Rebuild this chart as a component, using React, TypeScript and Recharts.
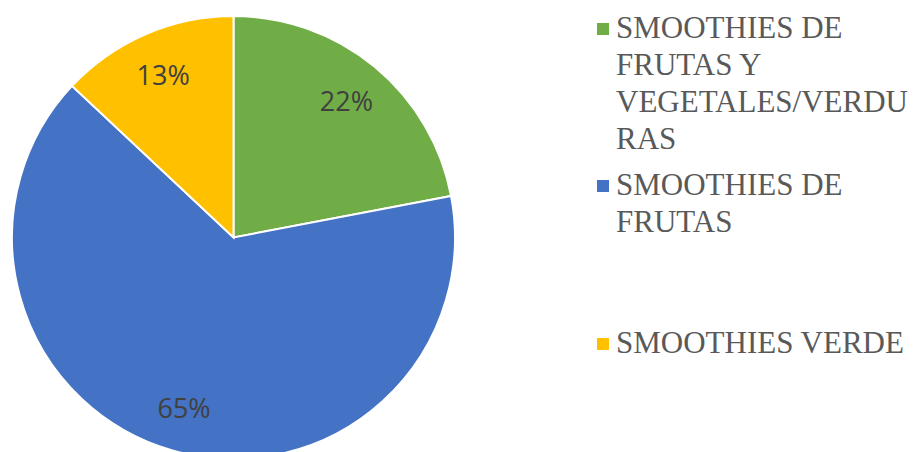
import React from 'react';
import { Cell, Legend, Pie, PieChart } from 'recharts';

const categories = [
  'SMOOTHIES DE FRUTAS Y VEGETALES/VERDURAS',
  'SMOOTHIES DE FRUTAS',
  'SMOOTHIES VERDE',
];
// legend text as it wraps in the original
const legendLines = [
  ['SMOOTHIES DE', 'FRUTAS Y', 'VEGETALES/VERDU', 'RAS'],
  ['SMOOTHIES DE', 'FRUTAS'],
  ['SMOOTHIES VERDE'],
];
const shares = [22, 65, 13];
const colors = ['#70AD47', '#4472C4', '#FFC000'];

const data = categories.map((name, i) => ({ name, value: shares[i] }));

const RADIAN = Math.PI / 180;

const renderLabel = (props: any) => {
  const { cx, cy, midAngle, outerRadius, percent } = props;
  const r = outerRadius * 0.8;
  const x = cx + r * Math.cos(-midAngle * RADIAN);
  const y = cy + r * Math.sin(-midAngle * RADIAN);
  return (
    <text
      x={x}
      y={y}
      textAnchor="middle"
      dominantBaseline="central"
      fill="#404040"
      fontFamily="'Open Sans', sans-serif"
      fontSize={27}
    >
      {`${Math.round(percent * 100)}%`}
    </text>
  );
};

const renderLegend = () => (
  <div style={{ position: 'relative', width: 320, height: 452 }}>
    {legendLines.map((lines, i) => (
      <div
        key={categories[i]}
        style={{ position: 'absolute', left: 0, top: 8.5 + i * 157.5 }}
      >
        <span
          style={{
            position: 'absolute',
            left: 0,
            top: 14,
            width: 12,
            height: 12,
            background: colors[i],
          }}
        />
        <div
          style={{
            marginLeft: 19,
            fontFamily: "'Liberation Serif', 'Times New Roman', serif",
            fontSize: 31,
            lineHeight: '37px',
            color: '#595959',
            whiteSpace: 'nowrap',
          }}
        >
          {lines.map((l) => (
            <div key={l}>{l}</div>
          ))}
        </div>
      </div>
    ))}
  </div>
);

export default function App() {
  return (
    <div style={{ position: 'absolute', left: 0, top: 0, width: 923, height: 452, background: '#fff' }}>
      <PieChart width={923} height={452} margin={{ top: 0, right: 0, bottom: 0, left: 0 }}>
        <Pie
          data={data}
          dataKey="value"
          nameKey="name"
          cx={233.5}
          cy={237.5}
          outerRadius={221.5}
          startAngle={90}
          endAngle={-270}
          stroke="#ffffff"
          strokeWidth={2}
          label={renderLabel}
          labelLine={false}
          isAnimationActive={false}
        >
          {data.map((d, i) => (
            <Cell key={d.name} fill={colors[i]} />
          ))}
        </Pie>
        <Legend
          content={renderLegend}
          wrapperStyle={{ position: 'absolute', left: 597, top: 0, width: 320, height: 452 }}
        />
      </PieChart>
    </div>
  );
}
